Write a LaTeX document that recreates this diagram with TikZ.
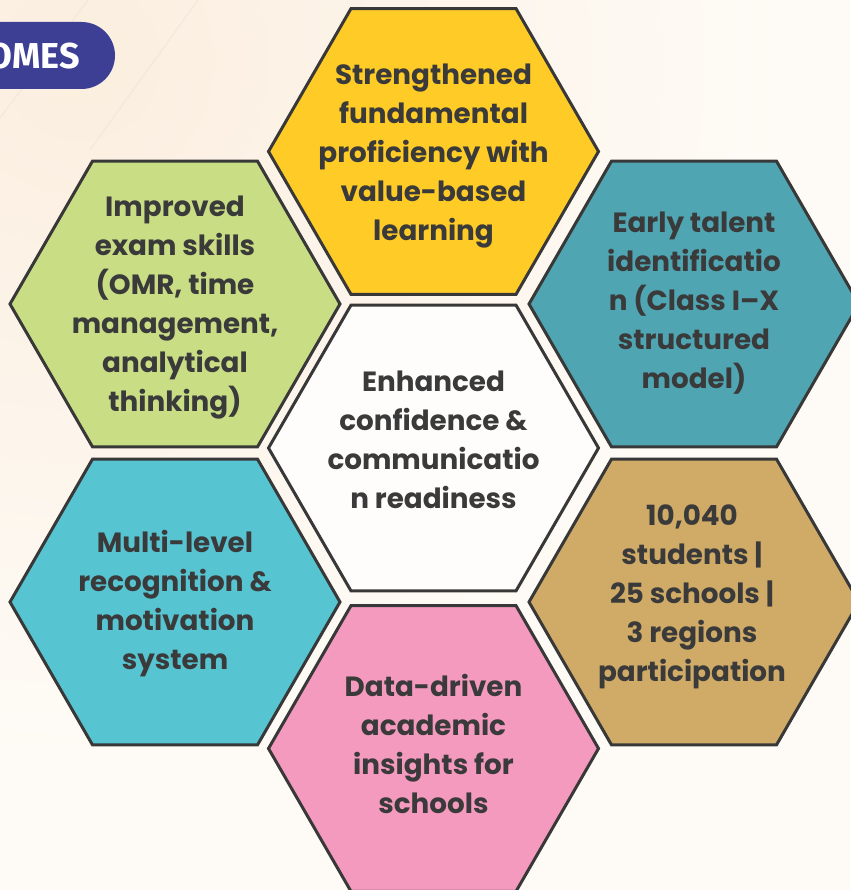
\documentclass[tikz,border=0pt]{standalone}
\usepackage{fontspec}
\setmainfont{Poppins}
\newfontfamily\pillfont{Fira Sans}
\usetikzlibrary{shapes.geometric}
\definecolor{bgbase}{HTML}{FEFBF6}
\definecolor{bgpeach}{HTML}{FBEEDF}
\definecolor{streak}{HTML}{EFE3D6}
\definecolor{hexline}{HTML}{383838}
\definecolor{hextext}{HTML}{3A3A3A}
\definecolor{hexyellow}{HTML}{FFCB27}
\definecolor{hexgreen}{HTML}{C9DD85}
\definecolor{hexteal}{HTML}{50A5B2}
\definecolor{hexcyan}{HTML}{57C4D2}
\definecolor{hextan}{HTML}{CFAB67}
\definecolor{hexpink}{HTML}{F59ABF}
\definecolor{hexwhite}{HTML}{FEFDFB}
\definecolor{pillblue}{HTML}{3D3F95}
\tikzset{
  hexcell/.style={regular polygon,regular polygon sides=6,minimum size=330pt,inner sep=0pt,
    draw=hexline,line width=3pt,line join=miter},
  hexlabel/.style={text=hextext,align=center,inner sep=0pt,
    font=\fontsize{27.8pt}{39pt}\selectfont\bfseries},
  streakline/.style={draw=streak,line width=1.5pt,opacity=.5},
  pill/.style={fill=pillblue,rounded corners=33.5pt}
}
\begin{document}
\begin{tikzpicture}[x=1pt,y=-1pt]
\useasboundingbox (0,0) rectangle (850,890);
\fill[bgbase] (0,0) rectangle (850,890);
\begin{scope}
\clip (0,0) rectangle (850,890);
\shade[inner color=bgpeach,outer color=bgbase] (-620,-640) rectangle (780,760);
\draw[streakline] (88,0) -- (0,118);
\draw[streakline] (198,0) -- (90,150);
\end{scope}
\fill[pill] (-60,22) rectangle (115,89);
\node[anchor=east,text=white,font=\fontsize{36pt}{36pt}\selectfont\pillfont\bfseries,inner sep=0pt] (title) at (80,56) {OMES};
\node[hexcell,fill=hexyellow] (hexa) at (433.5,151.5) {};
\node[hexcell,fill=hexgreen] (hexb) at (175,304) {};
\node[hexcell,fill=hexteal] (hexc) at (694,304) {};
\node[hexcell,fill=hexwhite] (hexd) at (433.5,448) {};
\node[hexcell,fill=hexcyan] (hexe) at (175,602) {};
\node[hexcell,fill=hextan] (hexf) at (694,602) {};
\node[hexcell,fill=hexpink] (hexg) at (433.5,748.5) {};
\node[hexlabel] (laba) at (433.5,156) {Strengthened\\fundamental\\proficiency with\\value-based\\learning};
\node[hexlabel] (labb) at (175,308) {Improved\\exam skills\\(OMR, time\\management,\\analytical\\thinking)};
\node[hexlabel] (labc) at (694,303) {Early talent\\identificatio\\n (Class I–X\\structured\\model)};
\node[hexlabel] (labd) at (433.5,439.5) {Enhanced\\confidence \&\\communicatio\\n readiness};
\node[hexlabel] (labe) at (175,604) {Multi-level\\recognition \&\\motivation\\system};
\node[hexlabel] (labf) at (692,597) {10,040\\students |\\25 schools |\\3 regions\\participation};
\node[hexlabel] (labg) at (433.5,743.5) {Data-driven\\academic\\insights for\\schools};
\end{tikzpicture}
\end{document}
